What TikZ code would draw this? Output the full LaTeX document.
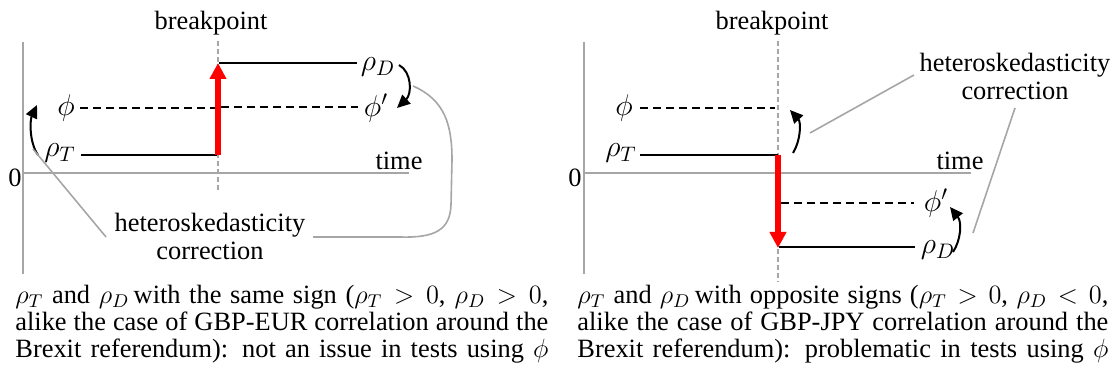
\documentclass[tikz,border=0pt]{standalone}
\usepackage{fix-cm}
\usepackage{fontspec}
\setmainfont{Liberation Serif}
\usetikzlibrary{arrows.meta}
\definecolor{axisgray}{HTML}{A6A6A6}
\definecolor{arrowred}{HTML}{FF0000}
\tikzset{
  lbl/.style={inner sep=0pt, font=\fontsize{13.2}{14}\selectfont},
  mathlbl/.style={inner sep=0pt, font=\fontsize{15}{16}\selectfont},
  captionline/.style={inner sep=0pt, anchor=base west, font=\fontsize{13.2}{13.5}\selectfont},
  axisline/.style={draw=axisgray, line width=1pt},
  bpline/.style={draw=axisgray, line width=0.6pt, dash pattern=on 2.5pt off 1.5pt},
  levelline/.style={draw=black, line width=1pt},
  philine/.style={draw=black, line width=1pt, dash pattern=on 4.2pt off 2.3pt},
  jumparrow/.style={draw=arrowred, line width=3pt, -{Triangle[width=8pt,length=8pt]}},
  corrarrow/.style={draw=black, line width=1pt, -{Triangle[width=6pt,length=6.5pt]}},
  callout/.style={draw=axisgray, line width=0.8pt}
}
\begin{document}
\begin{tikzpicture}[x=0.5pt,y=-0.5pt]
\useasboundingbox (0,0) rectangle (1116,379);

% ================= LEFT PANEL =================
\coordinate (LaxT) at (23,42);
\coordinate (LaxB) at (23,274);
\coordinate (LhL) at (23,173);
\coordinate (LhR) at (409,173);
\draw[axisline] (LaxT) -- (LaxB);
\draw[axisline] (LhL) -- (LhR);
\node[lbl] (Lzero) at (15,178) {0};
\node[lbl] (Ltime) at (399,161) {time};
\node[lbl] (Lbp) at (211,23) {breakpoint};
\coordinate (LbpT) at (218,41);
\coordinate (LbpB) at (218,192);
\draw[bpline] (LbpT) -- (LbpB);

\node[mathlbl] (LrT) at (60,153) {$\rho_T$};
\coordinate (LrTa) at (81,155);
\coordinate (LrTb) at (217,155);
\draw[levelline] (LrTa) -- (LrTb);

\node[mathlbl] (LrD) at (378,67) {$\rho_D$};
\coordinate (LrDa) at (219,63);
\coordinate (LrDb) at (357,63);
\draw[levelline] (LrDa) -- (LrDb);

\node[mathlbl] (Lphi) at (66,108) {$\phi$};
\coordinate (Lphia) at (80,108);
\coordinate (Lphib) at (216,108);
\draw[philine] (Lphia) -- (Lphib);
\node[mathlbl] (Lphip) at (376,108) {$\phi'$};
\coordinate (Lphipa) at (221,107);
\coordinate (Lphipb) at (358,107);
\draw[philine] (Lphipa) -- (Lphipb);

\coordinate (LjS) at (218,155);
\coordinate (LjE) at (218,63);
\draw[jumparrow] (LjS) -- (LjE);

\coordinate (LcA1) at (38,155);
\coordinate (LcA2) at (37,105);
\draw[corrarrow] (LcA1) .. controls (29,142) and (30,120) .. (LcA2);
\coordinate (LcB1) at (399,65);
\coordinate (LcB2) at (397,108);
\draw[corrarrow] (LcB1) .. controls (412,72) and (412,94) .. (LcB2);

\node[lbl, align=center] (Lhet) at (210,236) {heteroskedasticity\\correction};
\coordinate (Lk1a) at (33,149);
\coordinate (Lk1b) at (106,237);
\draw[callout] (Lk1a) -- (Lk1b);
\coordinate (Lk2a) at (413,86);
\coordinate (Lk2b) at (313,237);
\draw[callout] (Lk2a) .. controls (445,100) and (452,125) .. (452,160)
  -- (451,205) .. controls (450,230) and (435,238) .. (400,237) -- (Lk2b);

\node[captionline] (Lcap1) at (15,304) {\makebox[266.5pt][s]{$\rho_T$ and $\rho_D$\,with the same sign ($\rho_T > 0$, $\rho_D > 0$,}};
\node[captionline] (Lcap2) at (15,331) {\makebox[266.5pt][s]{alike the case of GBP-EUR correlation around the}};
\node[captionline] (Lcap3) at (15,358) {\makebox[266.5pt][s]{Brexit referendum): not an issue in tests using $\phi$}};

% ================= RIGHT PANEL =================
\coordinate (RaxT) at (583.5,42);
\coordinate (RaxB) at (583.5,274);
\coordinate (RhL) at (583.5,173);
\coordinate (RhR) at (971,173);
\draw[axisline] (RaxT) -- (RaxB);
\draw[axisline] (RhL) -- (RhR);
\node[lbl] (Rzero) at (575,178) {0};
\node[lbl] (Rtime) at (960,161) {time};
\node[lbl] (Rbp) at (772,23) {breakpoint};
\coordinate (RbpT) at (778,41);
\coordinate (RbpB) at (778,282);
\draw[bpline] (RbpT) -- (RbpB);

\node[mathlbl] (Rphi) at (624,108) {$\phi$};
\coordinate (Rphia) at (640,108);
\coordinate (Rphib) at (775,108);
\draw[philine] (Rphia) -- (Rphib);

\node[mathlbl] (RrT) at (621,153) {$\rho_T$};
\coordinate (RrTa) at (640,155);
\coordinate (RrTb) at (778,155);
\draw[levelline] (RrTa) -- (RrTb);

\node[mathlbl] (Rphip) at (936,203) {$\phi'$};
\coordinate (Rphipa) at (781,203);
\coordinate (Rphipb) at (914,203);
\draw[philine] (Rphipa) -- (Rphipb);

\node[mathlbl] (RrD) at (938,250) {$\rho_D$};
\coordinate (RrDa) at (779,247);
\coordinate (RrDb) at (915,247);
\draw[levelline] (RrDa) -- (RrDb);

\coordinate (RjS) at (778,155);
\coordinate (RjE) at (778,248);
\draw[jumparrow] (RjS) -- (RjE);

\coordinate (RcA1) at (793,153);
\coordinate (RcA2) at (790,110);
\draw[corrarrow] (RcA1) .. controls (801,140) and (801,122) .. (RcA2);
\coordinate (RcB1) at (953,252);
\coordinate (RcB2) at (950,207);
\draw[corrarrow] (RcB1) .. controls (961,240) and (962,222) .. (RcB2);

\node[lbl, align=center] (Rhet) at (1015,76) {heteroskedasticity\\correction};
\coordinate (Rk1a) at (914,75);
\coordinate (Rk1b) at (810,133);
\draw[callout] (Rk1a) -- (Rk1b);
\coordinate (Rk2a) at (1015,108);
\coordinate (Rk2b) at (973,233);
\draw[callout] (Rk2a) -- (Rk2b);

\node[captionline] (Rcap1) at (577,304) {\makebox[265.5pt][s]{$\rho_T$ and $\rho_D$\,with opposite signs ($\rho_T > 0$, $\rho_D < 0$,}};
\node[captionline] (Rcap2) at (577,331) {\makebox[265.5pt][s]{alike the case of GBP-JPY correlation around the}};
\node[captionline] (Rcap3) at (577,358) {\makebox[265.5pt][s]{Brexit referendum): problematic in tests using $\phi$}};
\end{tikzpicture}
\end{document}
